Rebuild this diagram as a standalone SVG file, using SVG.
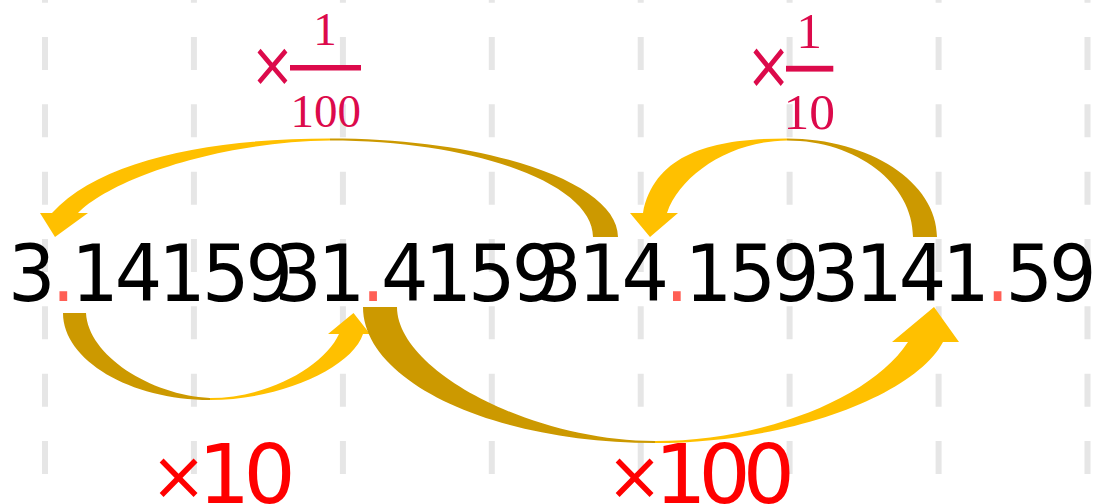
<svg xmlns="http://www.w3.org/2000/svg" width="1093" height="504" viewBox="0 0 1093 504">
<style>
.grid line{stroke:#e6e6e6;stroke-width:6;stroke-dasharray:33 34.33}
.num{font-family:"DejaVu Sans",sans-serif;font-size:79px;fill:#000;letter-spacing:-4.23px}
.dot{fill:#ff5f55}
.dark{fill:#cc9900}
.yel{fill:#ffc000}
.frac{font-family:"Liberation Serif",serif;fill:#dc0a4b;text-anchor:middle}
.tx{font-family:"DejaVu Sans",sans-serif;fill:#dc0a4b}
.bar{fill:#dc0a4b}
.big{font-family:"DejaVu Sans",sans-serif;font-size:82px;fill:#ff0000}
</style>
<rect width="1093" height="504" fill="#fff"/>
<g class="grid">
<line x1="45" y1="-30.3" x2="45" y2="504"/>
<line x1="193.9" y1="-30.3" x2="193.9" y2="504"/>
<line x1="342.9" y1="-30.3" x2="342.9" y2="504"/>
<line x1="491.8" y1="-30.3" x2="491.8" y2="504"/>
<line x1="640.7" y1="-30.3" x2="640.7" y2="504"/>
<line x1="789.6" y1="-30.3" x2="789.6" y2="504"/>
<line x1="938.6" y1="-30.3" x2="938.6" y2="504"/>
<line x1="1087.5" y1="-30.3" x2="1087.5" y2="504"/>
</g>
<g id="connectors">
<g id="arrow-div100">
<path class="dark" d="M618,237 C618,182.6 489,138.5 330,138.5 L330,140.5 C475,140.5 593,184 593,237 Z"/>
<path class="yel" d="M330,138.5 C210,138.5 100,160 52,213 L40,213 L55,237 L88,213 L78,213 C110,180 215,142 330,140.5 Z"/>
</g>
<g id="arrow-div10">
<path class="dark" d="M937,237 C937,182.6 869.8,138.5 787,138.5 L787,140.5 C856.6,140.5 913,183.7 913,237 Z"/>
<path class="yel" d="M787,138.5 C720,138.5 655,150 643,213 L630,213 L650,237 L678,213 L667,213 C680,175 730,141 787,140.5 Z"/>
</g>
<g id="arrow-mul10">
<path class="dark" d="M63,313 C63,360 130,400 210,400 L210,398 C150,395 88,355 86,313 Z"/>
<path class="yel" d="M210,400 C280,400 352,368 363,334 L370,334 L353.5,313 L328,334 L339,334 C325,365 270,398 210,398 Z"/>
</g>
<g id="arrow-mul100">
<path class="dark" d="M363,307 C363,382 494,443 655,443 L655,441 C530,441 397,370 397,307 Z"/>
<path class="yel" d="M655,443 C790,443 915,395 943,342 L959,342 L934,307 L892,342 L908,342 C870,400 760,441 655,441 Z"/>
</g>
</g>
<g id="num1" transform="translate(8,301) scale(0.946,1)"><text class="num" x="0" y="0">3<tspan class="dot">.</tspan>14159</text></g>
<g id="num2" transform="translate(274.2,301) scale(0.946,1)"><text class="num" x="0" y="0">31<tspan class="dot">.</tspan>4159</text></g>
<g id="num3" transform="translate(534.5,301) scale(0.946,1)"><text class="num" x="0" y="0">314<tspan class="dot">.</tspan>159</text></g>
<g id="num4" transform="translate(811.7,301) scale(0.946,1)"><text class="num" x="0" y="0">3141<tspan class="dot">.</tspan>59</text></g>
<g id="label-div100">
<text class="tx" transform="translate(270,66) scale(1,1.16)" x="-19.7" y="17" font-size="53">×</text>
<text class="frac" x="325" y="45" font-size="47">1</text>
<rect class="bar" x="290" y="65" width="71" height="5.5"/>
<text class="frac" x="325.8" y="126.7" font-size="47">100</text>
</g>
<g id="label-div10">
<text class="tx" transform="translate(766,67) scale(1,1.21)" x="-20.1" y="17.3" font-size="54">×</text>
<text class="frac" x="809" y="48.3" font-size="51.5">1</text>
<rect class="bar" x="786" y="65.8" width="47.3" height="5.8"/>
<text class="frac" x="809.2" y="129.3" font-size="51.5">10</text>
</g>
<g id="label-mul10"><text class="big"><tspan x="150.5" y="499" font-size="67">×</tspan><tspan x="198 243.6" y="503">10</tspan></text></g>
<g id="label-mul100"><text class="big"><tspan x="606.6" y="499" font-size="67">×</tspan><tspan x="654.5 698.6 742.7" y="503">100</tspan></text></g>
</svg>
